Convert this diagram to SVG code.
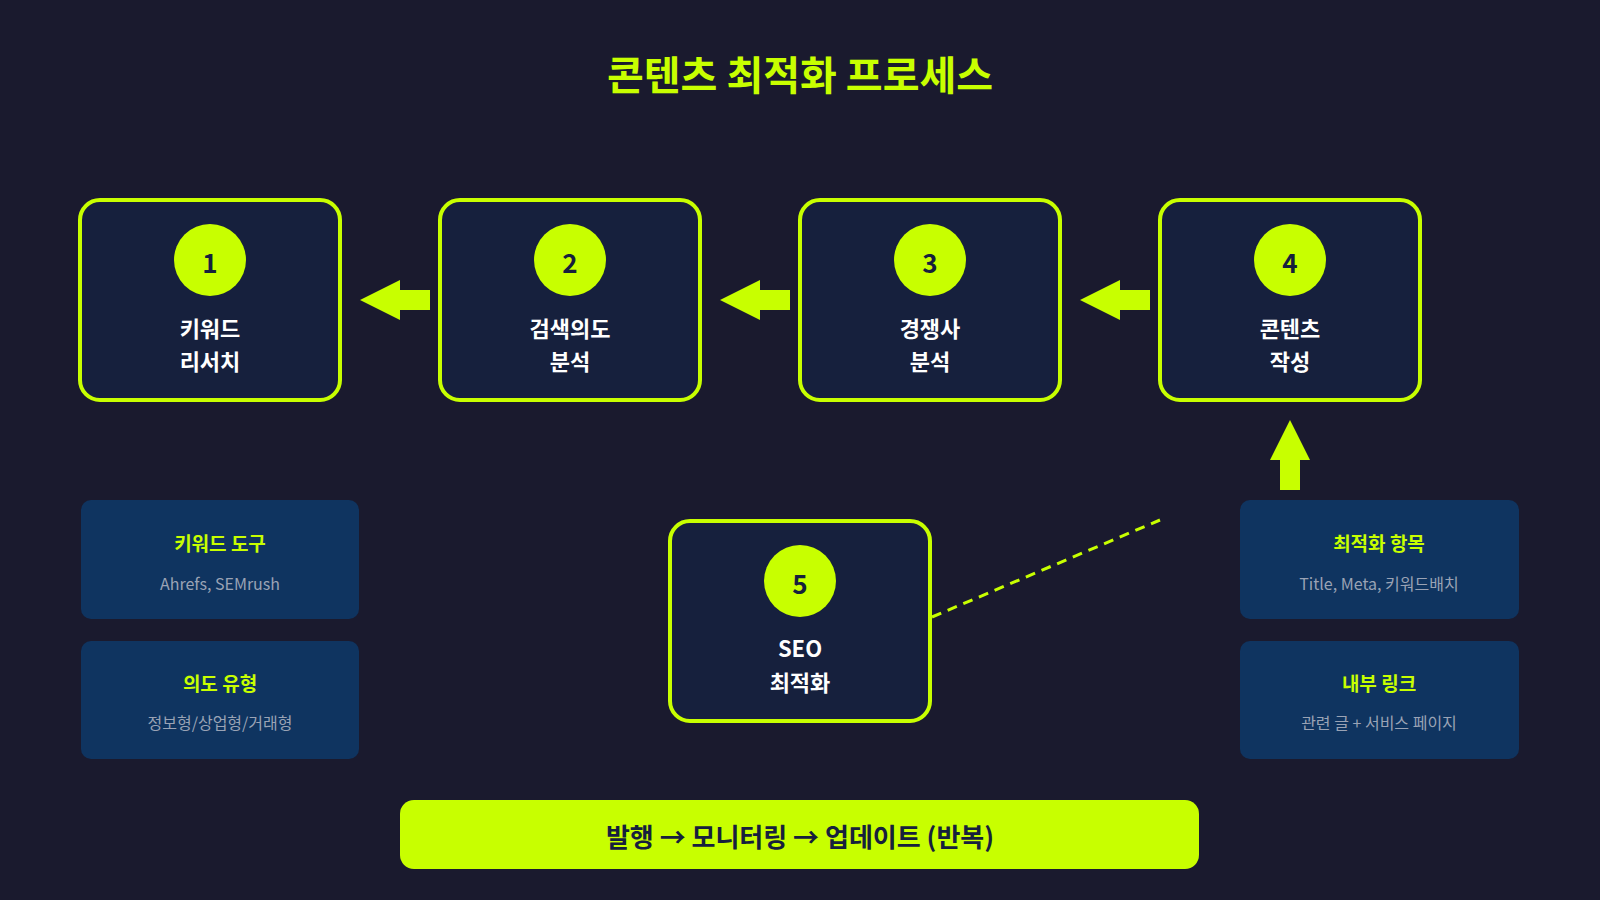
<svg xmlns="http://www.w3.org/2000/svg" width="1600" height="900" viewBox="0 0 1600 900">
<style>
text{font-family:"Noto Sans CJK KR","Noto Sans",sans-serif;text-anchor:middle;dominant-baseline:central}
.box{fill:#16203d;stroke:#c8ff00;stroke-width:4}
.num{fill:#c8ff00}
.nt{fill:#16203d;font-size:26px;font-weight:700}
.lb{fill:#fff;font-size:22px;font-weight:700}
.ib{fill:#0f3460}
.it{fill:#c8ff00;font-size:19px;font-weight:700}
.is{fill:#9aa3b5;font-size:16px}
.ar{fill:#c8ff00}
</style>
<rect width="1600" height="900" fill="#1a1a2e"/>
<text x="800" y="73" fill="#c8ff00" font-size="40" font-weight="700">콘텐츠 최적화 프로세스</text>
<g id="connectors">
<polygon class="ar" points="360,300 400,280 400,290 430,290 430,310 400,310 400,320"/>
<polygon class="ar" points="720,300 760,280 760,290 790,290 790,310 760,310 760,320"/>
<polygon class="ar" points="1080,300 1120,280 1120,290 1150,290 1150,310 1120,310 1120,320"/>
<polygon class="ar" points="1290,420 1310,460 1300,460 1300,490 1280,490 1280,460 1270,460"/>
<line x1="932" y1="617" x2="1160" y2="520" stroke="#c8ff00" stroke-width="3" stroke-dasharray="10,7"/>
</g>
<g id="n1"><rect class="box" x="80" y="200" width="260" height="200" rx="20"/><circle class="num" cx="210" cy="260" r="36"/><text class="nt" x="210" y="261">1</text><text class="lb" x="210" y="327">키워드</text><text class="lb" x="210" y="360">리서치</text></g>
<g id="n2"><rect class="box" x="440" y="200" width="260" height="200" rx="20"/><circle class="num" cx="570" cy="260" r="36"/><text class="nt" x="570" y="261">2</text><text class="lb" x="570" y="327">검색의도</text><text class="lb" x="570" y="360">분석</text></g>
<g id="n3"><rect class="box" x="800" y="200" width="260" height="200" rx="20"/><circle class="num" cx="930" cy="260" r="36"/><text class="nt" x="930" y="261">3</text><text class="lb" x="930" y="327">경쟁사</text><text class="lb" x="930" y="360">분석</text></g>
<g id="n4"><rect class="box" x="1160" y="200" width="260" height="200" rx="20"/><circle class="num" cx="1290" cy="260" r="36"/><text class="nt" x="1290" y="261">4</text><text class="lb" x="1290" y="327">콘텐츠</text><text class="lb" x="1290" y="360">작성</text></g>
<g id="n5"><rect class="box" x="670" y="521" width="260" height="200" rx="20"/><circle class="num" cx="800" cy="581" r="36"/><text class="nt" x="800" y="582">5</text><text class="lb" x="800" y="647">SEO</text><text class="lb" x="800" y="681">최적화</text></g>
<g id="i1"><rect class="ib" x="81" y="500" width="278" height="119" rx="10"/><text class="it" x="220" y="542">키워드 도구</text><text class="is" x="220" y="583">Ahrefs, SEMrush</text></g>
<g id="i2"><rect class="ib" x="81" y="641" width="278" height="118" rx="10"/><text class="it" x="220" y="682">의도 유형</text><text class="is" x="220" y="722">정보형/상업형/거래형</text></g>
<g id="i3"><rect class="ib" x="1240" y="500" width="279" height="119" rx="10"/><text class="it" x="1379" y="542">최적화 항목</text><text class="is" x="1379" y="583">Title, Meta, 키워드배치</text></g>
<g id="i4"><rect class="ib" x="1240" y="641" width="279" height="118" rx="10"/><text class="it" x="1379" y="682">내부 링크</text><text class="is" x="1379" y="722">관련 글 + 서비스 페이지</text></g>
<g id="bar"><rect x="400" y="800" width="799" height="69" rx="14" fill="#c8ff00"/><text x="800" y="835" fill="#16203d" font-size="26" font-weight="700">발행 → 모니터링 → 업데이트 (반복)</text></g>
</svg>
